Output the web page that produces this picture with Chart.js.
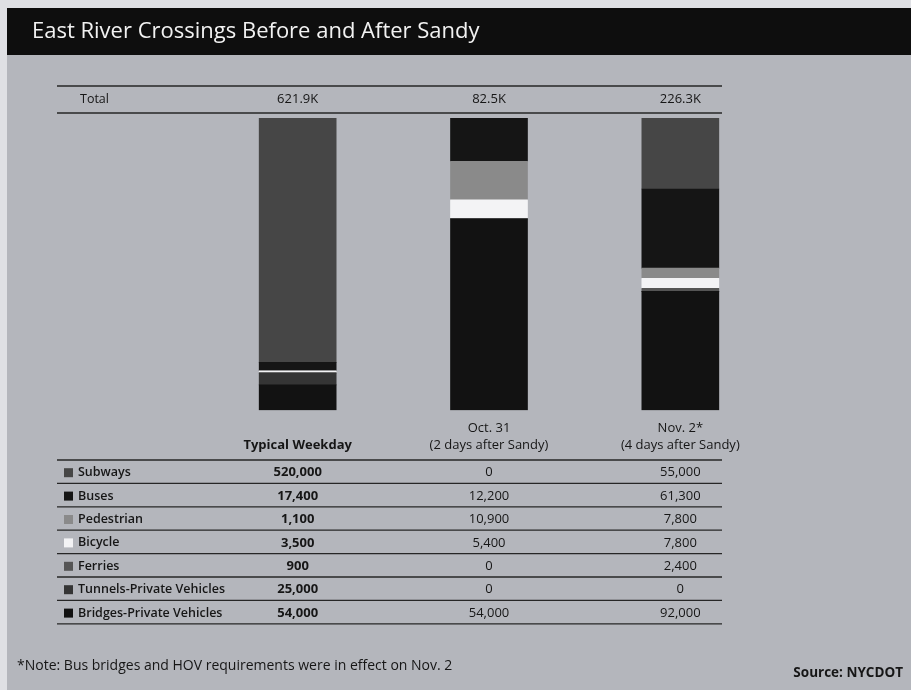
<!DOCTYPE html>
<html>
<head>
<meta charset="utf-8">
<script src="https://cdn.jsdelivr.net/npm/chart.js@4"></script>
<style>
  html, body { margin: 0; padding: 0; background: #dfe0e4; }
  canvas { display: block; }
</style>
</head>
<body>
<canvas id="crossingsChart" width="911" height="690"></canvas>
<script>
const columnLabels = [['', 'Typical Weekday'], ['Oct. 31', '(2 days after Sandy)'], ['Nov. 2*', '(4 days after Sandy)']];
const modes = ['Subways', 'Buses', 'Pedestrian', 'Bicycle', 'Ferries', 'Tunnels-Private Vehicles', 'Bridges-Private Vehicles'];
const typicalWeekday = [520000, 17400, 1100, 3500, 900, 25000, 54000];
const oct31 = [0, 12200, 10900, 5400, 0, 0, 54000];
const nov2 = [55000, 61300, 7800, 7800, 2400, 0, 92000];
const modeColors = ['#464646', '#151515', '#8a8a8a', '#f3f3f5', '#555555', '#353535', '#121212'];

const FONT = '"Open Sans", "Noto Sans", sans-serif';
const INK = '#161616';

const columns = [typicalWeekday, oct31, nov2];
const totals = columns.map(col => col.reduce((a, b) => a + b, 0));

// each bar is shown as 100% of its own total; bottom of the stack is the last mode
const datasets = modes.map((mode, i) => ({
    label: mode,
    data: columns.map((col, c) => col[i] / totals[c] * 100),
    backgroundColor: modeColors[i],
    borderWidth: 0,
    barThickness: 77
})).reverse();

const fmt = n => n.toLocaleString('en-US');

const tablePlugin = {
    id: 'tablePlugin',
    beforeDraw(chart) {
        const ctx = chart.ctx;
        ctx.save();
        ctx.fillStyle = '#dfe0e4';
        ctx.fillRect(0, 0, 911, 690);
        ctx.fillStyle = '#b4b6bc';
        ctx.fillRect(7, 55, 904, 635);
        ctx.fillStyle = '#0e0e0e';
        ctx.fillRect(7, 8, 904, 47);
        ctx.fillStyle = '#f2f2f2';
        ctx.font = '22px ' + FONT;
        ctx.textBaseline = 'middle';
        ctx.fillText('East River Crossings Before and After Sandy', 32, 32);
        ctx.restore();
    },
    afterDraw(chart) {
        const ctx = chart.ctx;
        const x = chart.scales.x;
        const colX = columns.map((c, i) => x.getPixelForValue(i));
        const left = 57, right = 722;
        ctx.save();
        ctx.strokeStyle = '#262626';
        ctx.lineWidth = 1.3;
        const hline = y => { ctx.beginPath(); ctx.moveTo(left, y); ctx.lineTo(right, y); ctx.stroke(); };

        // total row
        hline(86); hline(113);
        ctx.fillStyle = INK;
        ctx.textBaseline = 'middle';
        ctx.font = '12.5px ' + FONT;
        ctx.textAlign = 'left';
        ctx.fillText('Total', 80, 99);
        ctx.textAlign = 'center';
        ctx.font = '13px ' + FONT;
        totals.forEach((t, i) => ctx.fillText((t / 1000).toFixed(1) + 'K', colX[i], 99));

        // mode table
        const top = 460, rowH = 23.4;
        for (let k = 0; k <= modes.length; k++) hline(top + k * rowH);
        modes.forEach((mode, r) => {
            const cy = top + rowH * (r + 0.5) + 1;
            ctx.fillStyle = modeColors[r];
            ctx.fillRect(64, cy - 4.5, 9, 9);
            ctx.fillStyle = INK;
            ctx.textAlign = 'left';
            ctx.font = '600 12.5px ' + FONT;
            ctx.fillText(mode, 78, cy);
            ctx.textAlign = 'center';
            columns.forEach((col, c) => {
                ctx.font = (c === 0 ? 'bold ' : '') + '13px ' + FONT;
                ctx.fillText(fmt(col[r]), colX[c], cy);
            });
        });

        // footnote and source
        ctx.textAlign = 'left';
        ctx.font = '14px ' + FONT;
        ctx.fillText('*Note: Bus bridges and HOV requirements were in effect on Nov. 2', 17, 666);
        ctx.textAlign = 'right';
        ctx.font = 'bold 13.5px ' + FONT;
        ctx.fillText('Source: NYCDOT', 903, 673);
        ctx.restore();
    }
};

new Chart(document.getElementById('crossingsChart').getContext('2d'), {
    type: 'bar',
    data: {
        labels: columnLabels,
        datasets: datasets
    },
    options: {
        responsive: false,
        animation: false,
        layout: {
            padding: { top: 118, left: 202, right: 135, bottom: 226 }
        },
        plugins: {
            legend: { display: false },
            tooltip: { enabled: false }
        },
        scales: {
            x: {
                stacked: true,
                grid: { display: false, drawTicks: false },
                border: { display: false },
                ticks: {
                    color: INK,
                    padding: 10,
                    maxRotation: 0,
                    autoSkip: false,
                    font: function(c) {
                        return { family: FONT, size: 13, lineHeight: 1.3, weight: c.index === 0 ? 'bold' : 'normal' };
                    }
                }
            },
            y: {
                stacked: true,
                display: false,
                min: 0,
                max: 100
            }
        }
    },
    plugins: [tablePlugin]
});
</script>
</body>
</html>
